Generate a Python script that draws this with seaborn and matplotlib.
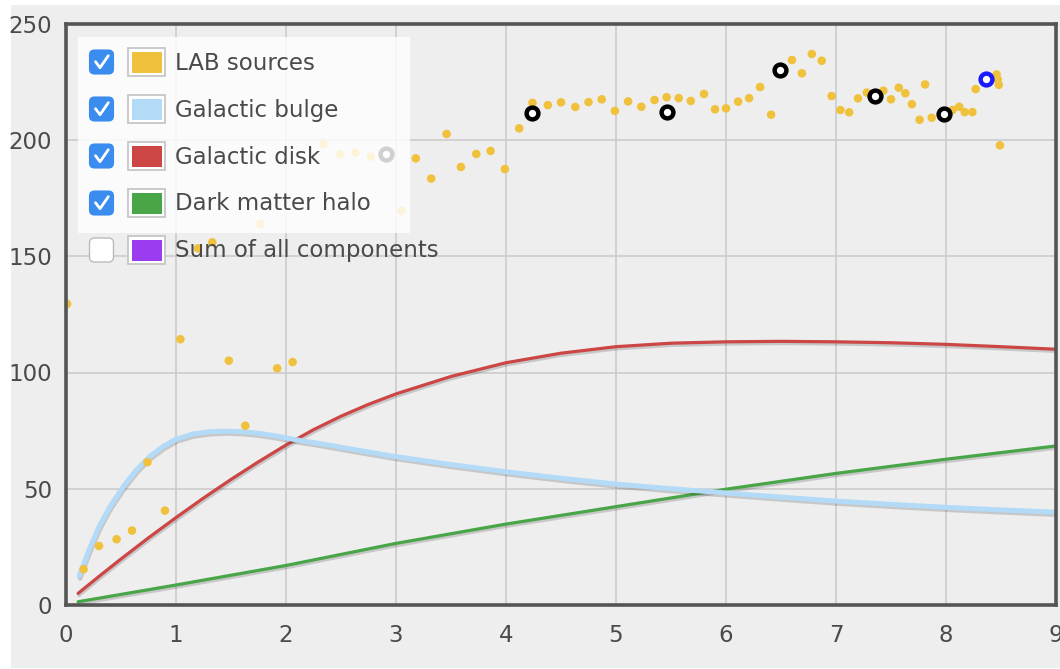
import numpy as np
import pandas as pd
import matplotlib
matplotlib.use("Agg")
import matplotlib.pyplot as plt
import seaborn as sns
from matplotlib import patheffects as pe
from matplotlib.patches import FancyBboxPatch, Rectangle

# ---------------- data ----------------
lab_x = [0.01, 0.16, 0.30, 0.46, 0.60, 0.74, 0.90, 1.04, 1.20, 1.33, 1.48, 1.63, 1.77,
         1.92, 2.06, 2.34, 2.49, 2.63, 2.77, 3.05, 3.18, 3.32, 3.46, 3.59, 3.73, 3.86,
         3.99, 4.12, 4.24, 4.38, 4.50, 4.63, 4.75, 4.87, 4.99, 5.11, 5.23, 5.35, 5.46,
         5.57, 5.68, 5.80, 5.90, 6.00, 6.11, 6.21, 6.31, 6.41, 6.60, 6.69, 6.78, 6.87,
         6.96, 7.04, 7.12, 7.20, 7.28, 7.43, 7.50, 7.57, 7.63, 7.69, 7.76, 7.81, 7.87,
         8.06, 8.12, 8.17, 8.24, 8.27, 8.46, 8.47, 8.48, 8.49]
lab_y = [129.5, 15.4, 25.4, 28.3, 32.0, 61.4, 40.6, 114.3, 153.4, 156.0, 105.1, 77.1, 163.9,
         101.8, 104.5, 198.3, 193.8, 194.5, 192.8, 169.5, 192.1, 183.4, 202.6, 188.4, 194.0, 195.3,
         187.5, 205.0, 216.0, 215.0, 216.2, 214.2, 216.3, 217.5, 212.5, 216.6, 214.3, 217.2, 218.4,
         218.0, 216.8, 219.8, 213.2, 213.6, 216.5, 218.0, 222.8, 210.9, 234.4, 228.7, 237.0, 234.1,
         218.9, 212.9, 211.9, 217.9, 220.4, 221.2, 217.5, 222.5, 220.1, 215.4, 208.7, 223.9, 209.6,
         212.9, 214.3, 212.0, 212.0, 221.9, 228.2, 226.0, 223.7, 197.7]

flag_x = [2.91, 4.24, 5.46, 6.49, 7.35, 7.98]
flag_y = [194.0, 211.7, 212.2, 230.0, 219.0, 211.3]
sel_x = [8.36]
sel_y = [226.1]

bulge_x = [0.12, 0.21, 0.30, 0.40, 0.52, 0.64, 0.76, 0.88, 1.00, 1.15, 1.30, 1.46, 1.61,
           1.76, 1.91, 2.06, 2.30, 2.60, 3.00, 3.50, 4.00, 4.50, 5.00, 5.50, 6.00, 6.50,
           7.00, 7.50, 8.00, 8.50, 9.00]
bulge_y = [12.5, 23.7, 33.7, 42.3, 50.9, 58.1, 63.8, 68.1, 71.3, 73.5, 74.5, 74.8, 74.5,
           73.8, 72.7, 71.3, 69.5, 67.0, 63.8, 60.4, 57.3, 54.5, 52.0, 50.0, 48.2, 46.4,
           44.7, 43.3, 42.0, 40.9, 39.9]

disk_x = [0.11, 0.30, 0.50, 0.75, 1.00, 1.25, 1.50, 1.75, 2.00, 2.25, 2.50, 2.75, 3.00,
          3.50, 4.00, 4.50, 5.00, 5.50, 6.00, 6.50, 7.00, 7.50, 8.00, 8.50, 9.00]
disk_y = [5.0, 12.3, 19.8, 28.9, 37.6, 46.0, 54.0, 61.6, 68.8, 75.4, 81.2, 86.3, 90.8,
          98.3, 104.2, 108.3, 111.1, 112.6, 113.2, 113.4, 113.2, 112.8, 112.1, 111.1, 110.0]

halo_x = [0.11, 1.0, 2.0, 3.0, 4.0, 5.0, 6.0, 7.0, 8.0, 9.0]
halo_y = [1.4, 8.6, 17.0, 26.5, 34.8, 42.3, 49.8, 56.6, 62.7, 68.4]

x_ticks = [0, 1, 2, 3, 4, 5, 6, 7, 8, 9]
y_ticks = [0, 50, 100, 150, 200, 250]

legend_labels = ["LAB sources", "Galactic bulge", "Galactic disk", "Dark matter halo",
                 "Sum of all components"]
legend_colors = ["#f0c13c", "#b3daf7", "#cc4646", "#48a548", "#9b3cf0"]
legend_checked = [True, True, True, True, False]

# ---------------- style ----------------
sns.set_theme(style="whitegrid")
plt.rcParams['font.family'] = ['DejaVu Sans']

W, H = 1060, 669
fig = plt.figure(figsize=(W / 100, H / 100), dpi=100, facecolor="white")
fig.patches.append(Rectangle((11 / W, 1 / H), 1 - 11 / W, 1 - 6 / H, transform=fig.transFigure,
                             facecolor="#eeeeee", edgecolor="none", zorder=-5))

ax = fig.add_axes([66 / W, 1 - 605 / H, 990 / W, (605 - 23.75) / H])
ax.set_facecolor("#eeeeee")

shadow = [pe.SimpleLineShadow(offset=(0.6, -1.6), shadow_color="k", alpha=0.18), pe.Normal()]

sns.lineplot(x=halo_x, y=halo_y, ax=ax, color=legend_colors[3], linewidth=2.3,
             path_effects=shadow, zorder=3, sort=False)
sns.lineplot(x=disk_x, y=disk_y, ax=ax, color=legend_colors[2], linewidth=2.3,
             path_effects=shadow, zorder=3, sort=False)
sns.lineplot(x=bulge_x, y=bulge_y, ax=ax, color=legend_colors[1], linewidth=3.6,
             path_effects=shadow, zorder=3, sort=False)

sns.scatterplot(x=lab_x, y=lab_y, ax=ax, color=legend_colors[0], s=38, edgecolor="none",
                zorder=4)
sns.scatterplot(x=flag_x, y=flag_y, ax=ax, facecolor="white", edgecolor="black", s=72,
                linewidth=3.2, zorder=5)
sns.scatterplot(x=sel_x, y=sel_y, ax=ax, facecolor="white", edgecolor="#1a1aff", s=72,
                linewidth=3.2, zorder=5)

ax.set_xlim(0, 9)
ax.set_ylim(0, 250)
ax.set_xticks(x_ticks)
ax.set_yticks(y_ticks)
ax.set_xticklabels([str(t) for t in x_ticks])
ax.set_yticklabels([str(t) for t in y_ticks])
ax.set_xlabel("")
ax.set_ylabel("")
ax.grid(True, color="#cccccc", linewidth=1.2)
ax.tick_params(axis="both", length=0, labelsize=16.5, labelcolor="#4a4a4a")
ax.tick_params(axis="x", pad=14)
ax.tick_params(axis="y", pad=10)
for sp in ax.spines.values():
    sp.set_visible(True)
    sp.set_color("#555555")
    sp.set_linewidth(2.6)
    sp.set_zorder(6)

# ---------------- legend overlay (pixel coordinates) ----------------
ov = fig.add_axes([0, 0, 1, 1], zorder=10)
ov.set_xlim(0, W)
ov.set_ylim(H, 0)
ov.axis("off")
ov.patch.set_alpha(0)

ov.add_patch(Rectangle((78, 37), 332, 196, facecolor="white", alpha=0.82, edgecolor="none"))

row_y = [62, 109, 156, 203, 250]
for yy, lab, col, chk in zip(row_y, legend_labels, legend_colors, legend_checked):
    if chk:
        ov.add_patch(FancyBboxPatch((89.5, yy - 12), 24, 24,
                                    boxstyle="round,pad=0,rounding_size=5",
                                    facecolor="#3a8cee", edgecolor="#3a8cee", linewidth=0.8))
        ov.plot([95.5, 100.0, 108.3], [yy - 0.3, yy + 5.7, yy - 6.3], color="white",
                linewidth=2.0, solid_capstyle="round", solid_joinstyle="round")
    else:
        ov.add_patch(FancyBboxPatch((89.5, yy - 12), 24, 24,
                                    boxstyle="round,pad=0,rounding_size=5",
                                    facecolor="white", edgecolor="#bbbbbb", linewidth=1.0))
    ov.add_patch(Rectangle((128, yy - 14), 37, 28, facecolor="white", edgecolor="#c6c6c6",
                           linewidth=1.3))
    ov.add_patch(Rectangle((131.5, yy - 10.5), 30, 21, facecolor=col, edgecolor="none"))
    ov.text(175, yy + 1, lab, fontsize=16.5, color="#4a4a4a", va="center", ha="left")

fig.savefig("out.png", dpi=100, facecolor=fig.get_facecolor())
